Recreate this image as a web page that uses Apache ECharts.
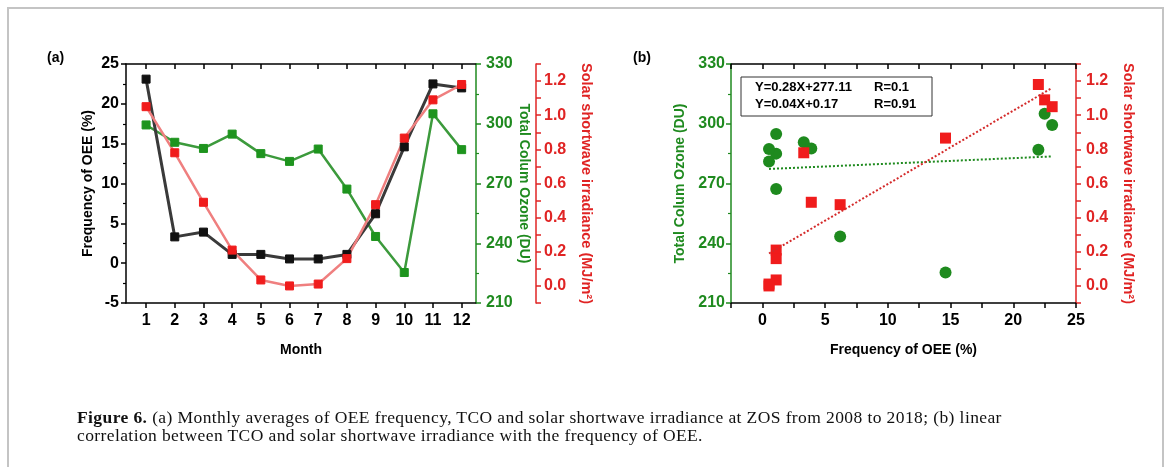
<!DOCTYPE html>
<html>
<head>
<meta charset="utf-8">
<script src="https://cdn.jsdelivr.net/npm/echarts@6/dist/echarts.min.js"></script>
<style>
  html, body { margin: 0; padding: 0; background: #fff; }
  #wrap { position: relative; width: 1166px; height: 467px; overflow: hidden; }
  #main { width: 1166px; height: 467px; }
  #caption {
    position: absolute; left: 77px; top: 409px;
    font-family: "Liberation Serif", serif; font-size: 17.5px; line-height: 17.5px;
    letter-spacing: 0.4px; color: #111; white-space: nowrap;
  }
</style>
</head>
<body>
<div id="wrap">
  <div id="main"></div>
  <div id="caption"><b>Figure 6.</b> (a) Monthly averages of OEE frequency, TCO and solar shortwave irradiance at ZOS from 2008 to 2018; (b) linear<br>correlation between TCO and solar shortwave irradiance with the frequency of OEE.</div>
</div>
<script>
// monthly averages
var months = [1, 2, 3, 4, 5, 6, 7, 8, 9, 10, 11, 12];
var freqOEE = [23.1, 3.3, 3.9, 1.1, 1.1, 0.53, 0.53, 1.1, 6.2, 14.6, 22.5, 22.0];
var tco = [299.4, 290.7, 287.6, 294.8, 285.0, 281.1, 287.3, 267.2, 243.4, 225.3, 305.0, 287.0];
var solar = [1.05, 0.78, 0.49, 0.21, 0.035, 0.0, 0.011, 0.16, 0.476, 0.866, 1.09, 1.18];

// fitted lines of panel (b), end points
var trendTCO = [[0.53, 277.3], [23.1, 283.6]];
var trendSolar = [[0.53, 0.19], [23.1, 1.16]];

var fitText = ['Y=0.28X+277.11', 'Y=0.04X+0.17'];
var fitR = ['R=0.1', 'R=0.91'];

var GREEN = '#1f8a1f';
var RED = '#e02424';
var FONT = '"Liberation Sans", Arial, sans-serif';

var chart = echarts.init(document.getElementById('main'));

function lineData(ys) {
  return months.map(function (m, i) { return [m, ys[i]]; });
}
function pairData(ys) {
  return freqOEE.map(function (f, i) { return [f, ys[i]]; });
}

function yAx(o) {
  var c = o.color || '#000';
  return {
    type: 'value',
    gridIndex: o.grid,
    position: o.pos,
    offset: o.offset || 0,
    min: o.min, max: o.max, interval: o.interval,
    name: o.name,
    nameLocation: 'middle',
    nameGap: o.nameGap,
    nameRotate: o.pos === 'left' ? 90 : -90,
    nameTextStyle: { color: c, fontWeight: 'bold', fontSize: o.nameSize || 14, fontFamily: FONT },
    axisLine: { show: true, onZero: false, lineStyle: { color: c, width: 1.5 } },
    axisTick: { show: true, inside: false, length: 5, lineStyle: { color: c, width: 1.5 } },
    minorTick: { show: !!o.minor, splitNumber: 2, length: 3, lineStyle: { color: c, width: 1.2 } },
    splitLine: { show: false },
    axisLabel: {
      color: c, fontWeight: 'bold', fontSize: 16, fontFamily: FONT, margin: o.margin || 7,
      formatter: o.fmt
    }
  };
}

function solarFmt(v) {
  var k = Math.round(v * 10);
  if (k < 0 || k % 2 !== 0) return '';
  return (k / 10).toFixed(1);
}

var option = {
  backgroundColor: '#fff',
  animation: false,
  grid: [
    { left: 126, top: 64, width: 350, height: 239 },
    { left: 731, top: 64, width: 345, height: 239 }
  ],
  xAxis: [
    {
      type: 'value', gridIndex: 0, position: 'bottom', min: 0.3, max: 12.5,
      name: 'Month', nameLocation: 'middle', nameGap: 40,
      nameTextStyle: { color: '#000', fontWeight: 'bold', fontSize: 14, fontFamily: FONT },
      axisLine: { onZero: false, lineStyle: { color: '#000', width: 1.5 } },
      axisTick: { length: 5, customValues: months, lineStyle: { color: '#000', width: 1.5 } },
      axisLabel: { customValues: months, color: '#000', fontWeight: 'bold', fontSize: 16, fontFamily: FONT, margin: 10 },
      splitLine: { show: false }
    },
    {
      type: 'value', gridIndex: 0, position: 'top', min: 0.3, max: 12.5,
      axisLine: { onZero: false, lineStyle: { color: '#000', width: 1.5 } },
      axisTick: { inside: true, length: 5, customValues: months, lineStyle: { color: '#000', width: 1.5 } },
      axisLabel: { show: false },
      splitLine: { show: false }
    },
    {
      type: 'value', gridIndex: 1, position: 'bottom', min: -2.5, max: 25, interval: 2.5,
      name: 'Frequency of OEE (%)', nameLocation: 'middle', nameGap: 40,
      nameTextStyle: { color: '#000', fontWeight: 'bold', fontSize: 14, fontFamily: FONT },
      axisLine: { onZero: false, lineStyle: { color: '#000', width: 1.5 } },
      axisTick: { length: 5, lineStyle: { color: '#000', width: 1.5 } },
      axisLabel: {
        color: '#000', fontWeight: 'bold', fontSize: 16, fontFamily: FONT, margin: 10,
        formatter: function (v) { return (v >= 0 && Math.abs(v % 5) < 1e-6) ? String(v) : ''; }
      },
      splitLine: { show: false }
    },
    {
      type: 'value', gridIndex: 1, position: 'top', min: -2.5, max: 25, interval: 2.5,
      axisLine: { onZero: false, lineStyle: { color: '#000', width: 1.5 } },
      axisTick: { inside: true, length: 5, lineStyle: { color: '#000', width: 1.5 } },
      axisLabel: { show: false },
      splitLine: { show: false }
    }
  ],
  yAxis: [
    yAx({ grid: 0, pos: 'left', min: -5, max: 25, interval: 5, minor: true,
          name: 'Frequency of OEE (%)', nameGap: 31, margin: 7 }),
    yAx({ grid: 0, pos: 'right', min: 210, max: 330, interval: 30, minor: true, color: GREEN,
          name: 'Total Colum Ozone (DU)', nameGap: 40, margin: 10 }),
    yAx({ grid: 0, pos: 'right', offset: 60, min: -0.1, max: 1.3, interval: 0.1, color: RED,
          name: 'Solar shortwave irradiance (MJ/m²)', nameGap: 42, margin: 8, fmt: solarFmt, nameSize: 14.5 }),
    yAx({ grid: 1, pos: 'left', min: 210, max: 330, interval: 30, minor: true, color: GREEN,
          name: 'Total Colum Ozone (DU)', nameGap: 44, margin: 6 }),
    yAx({ grid: 1, pos: 'right', min: -0.1, max: 1.3, interval: 0.1, color: RED,
          name: 'Solar shortwave irradiance (MJ/m²)', nameGap: 44, margin: 10, fmt: solarFmt, nameSize: 14.5 })
  ],
  series: [
    {
      name: 'TCO', type: 'line', xAxisIndex: 0, yAxisIndex: 1,
      data: lineData(tco), symbol: 'rect', symbolSize: 8,
      lineStyle: { color: '#3c9a3c', width: 2.5 },
      itemStyle: { color: '#1e941e', borderColor: '#1e941e' }
    },
    {
      name: 'OEE', type: 'line', xAxisIndex: 0, yAxisIndex: 0,
      data: lineData(freqOEE), symbol: 'rect', symbolSize: 8,
      lineStyle: { color: '#3a3a3a', width: 3 },
      itemStyle: { color: '#111', borderColor: '#111' }
    },
    {
      name: 'Solar', type: 'line', xAxisIndex: 0, yAxisIndex: 2,
      data: lineData(solar), symbol: 'rect', symbolSize: 8,
      lineStyle: { color: '#ef7f7f', width: 2.5 },
      itemStyle: { color: '#f01c1c', borderColor: '#f01c1c' }
    },
    {
      name: 'TCO fit', type: 'line', xAxisIndex: 2, yAxisIndex: 3,
      data: trendTCO, symbol: 'none',
      lineStyle: { color: '#1e8a1e', width: 2, type: [2, 2] }
    },
    {
      name: 'Solar fit', type: 'line', xAxisIndex: 2, yAxisIndex: 4,
      data: trendSolar, symbol: 'none',
      lineStyle: { color: '#d42a2a', width: 2, type: [2, 2] }
    },
    {
      name: 'TCO vs OEE', type: 'scatter', xAxisIndex: 2, yAxisIndex: 3,
      data: pairData(tco), symbol: 'circle', symbolSize: 12,
      itemStyle: { color: '#1e8a1e', opacity: 1 }
    },
    {
      name: 'Solar vs OEE', type: 'scatter', xAxisIndex: 2, yAxisIndex: 4,
      data: pairData(solar), symbol: 'rect', symbolSize: 11,
      itemStyle: { color: '#f01c1c', opacity: 1 }
    }
  ],
  graphic: [
    { type: 'rect', shape: { x: 8, y: 8, width: 1155, height: 480 },
      style: { fill: 'none', stroke: '#c4c4c4', lineWidth: 2 }, silent: true },
    { type: 'text', left: 47, top: 51,
      style: { text: '(a)', font: 'bold 14px ' + FONT, fill: '#000' } },
    { type: 'text', left: 633, top: 51,
      style: { text: '(b)', font: 'bold 14px ' + FONT, fill: '#000' } },
    { type: 'rect', shape: { x: 741, y: 77, width: 191, height: 39 },
      style: { fill: '#fff', stroke: '#333', lineWidth: 1 }, z: 10 },
    { type: 'text', x: 755, y: 81, z: 11,
      style: { text: fitText[0], font: 'bold 13px ' + FONT, fill: '#000' } },
    { type: 'text', x: 874, y: 81, z: 11,
      style: { text: fitR[0], font: 'bold 13px ' + FONT, fill: '#000' } },
    { type: 'text', x: 755, y: 98, z: 11,
      style: { text: fitText[1], font: 'bold 13px ' + FONT, fill: '#000' } },
    { type: 'text', x: 874, y: 98, z: 11,
      style: { text: fitR[1], font: 'bold 13px ' + FONT, fill: '#000' } }
  ]
};

chart.setOption(option);
</script>
</body>
</html>
